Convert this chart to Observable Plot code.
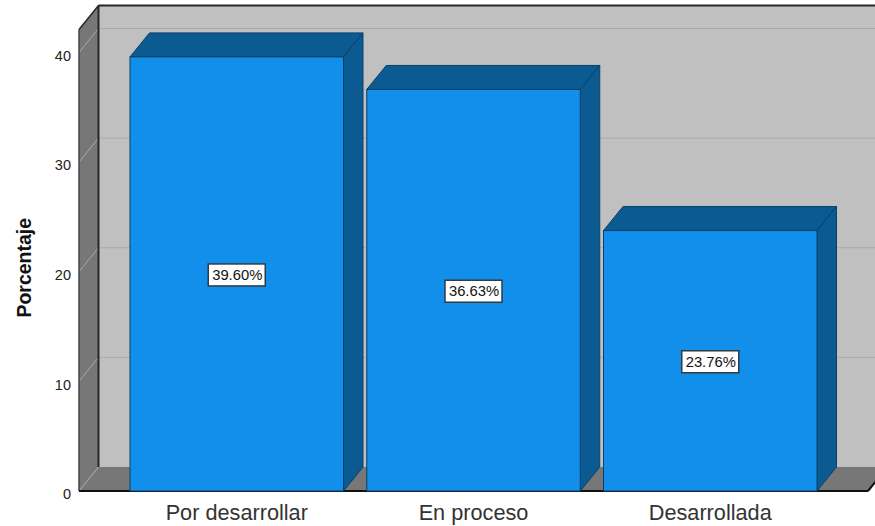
<!DOCTYPE html>
<html lang="es">
<head>
<meta charset="utf-8">
<title>Porcentaje por categoría</title>
<script src="https://cdn.jsdelivr.net/npm/d3@7"></script>
<script src="https://cdn.jsdelivr.net/npm/@observablehq/plot@0.6"></script>
<style>
  html, body { margin: 0; padding: 0; background: #fff; overflow: hidden; }
</style>
</head>
<body>
<script>
// Values of the chart
const categories = ["Por desarrollar", "En proceso", "Desarrollada"];
const percentages = [39.6, 36.63, 23.76];
const yTicks = [0, 10, 20, 30, 40];
const yMax = 42.1;

const rows = categories.map((category, i) => ({category, value: percentages[i]}));

// Pseudo-3D look: every face is offset from the front plane by this depth
const depth = {dx: 19.5, dy: -24};
const colors = {
  wall: "#c0c0c0", shade: "#777777", grid: "#aaaaaa", frame: "#262626",
  bar: "#118fea", barDark: "#0b5a91", barEdge: "#0a4068"
};

const polygon = (g, points, fill, stroke, strokeWidth = 1) =>
  g.append("path")
    .attr("d", "M" + points.map((p) => p.join(",")).join("L") + "Z")
    .attr("fill", fill)
    .attr("stroke", stroke)
    .attr("stroke-width", strokeWidth)
    .attr("stroke-linejoin", "round");

const segment = (g, a, b, stroke, strokeWidth = 1) =>
  g.append("line")
    .attr("x1", a[0]).attr("y1", a[1])
    .attr("x2", b[0]).attr("y2", b[1])
    .attr("stroke", stroke)
    .attr("stroke-width", strokeWidth);

// Back wall, left wall, floor, their gridlines and outlines
function room(index, scales, values, dimensions) {
  const {width, height, marginLeft, marginRight, marginBottom} = dimensions;
  const g = d3.create("svg:g");
  const y = scales.y;
  const {dx, dy} = depth;
  const left = marginLeft;
  const right = width - marginRight;
  const bottom = height - marginBottom;
  const top = y(yMax);

  polygon(g, [[left + dx, top + dy], [width + dx, top + dy], [width + dx, bottom + dy], [left + dx, bottom + dy]], colors.wall, "none");
  polygon(g, [[left, top], [left + dx, top + dy], [left + dx, bottom + dy], [left, bottom]], colors.shade, "none");
  polygon(g, [[left, bottom], [left + dx, bottom + dy], [right + dx, bottom + dy], [right, bottom]], colors.shade, "none");

  for (const t of yTicks.slice(1)) {
    segment(g, [left + dx, y(t) + dy], [width, y(t) + dy], colors.grid);
    segment(g, [left, y(t)], [left + dx, y(t) + dy], colors.grid);
  }
  segment(g, [left, bottom], [left + dx, bottom + dy], colors.grid);

  segment(g, [left + dx, top + dy], [left + dx, bottom + dy], colors.frame, 2);
  segment(g, [left + dx, top + dy], [width, top + dy], colors.frame, 2);
  segment(g, [left, top], [left + dx, top + dy], colors.frame, 1.5);
  segment(g, [left, top], [left, bottom], "#444444", 1.5);
  segment(g, [left, bottom], [right, bottom], "#111111", 2);
  segment(g, [right, bottom], [right + dx, bottom + dy], "#111111", 2);
  return g.node();
}

// Top and right faces of each bar
function barFaces(index, scales) {
  const g = d3.create("svg:g");
  const {dx, dy} = depth;
  const base = scales.y(0);
  for (const {category, value} of rows) {
    const x0 = scales.x(category);
    const x1 = x0 + scales.x.bandwidth();
    const top = scales.y(value);
    polygon(g, [[x0, top], [x0 + dx, top + dy], [x1 + dx, top + dy], [x1, top]], colors.barDark, colors.barEdge);
    polygon(g, [[x1, top], [x1 + dx, top + dy], [x1 + dx, base + dy], [x1, base]], colors.barDark, colors.barEdge);
  }
  return g.node();
}

// White boxes behind the percentage labels
function labelBoxes(index, scales) {
  const g = d3.create("svg:g");
  const boxW = 57, boxH = 22;
  for (const {category, value} of rows) {
    const cx = scales.x(category) + scales.x.bandwidth() / 2;
    const cy = scales.y(value / 2) + 1;
    g.append("rect")
      .attr("x", cx - boxW / 2).attr("y", cy - boxH / 2)
      .attr("width", boxW).attr("height", boxH)
      .attr("fill", "#ffffff").attr("stroke", "#2f3a42").attr("stroke-width", 1.5);
  }
  return g.node();
}

const chart = Plot.plot({
  width: 875,
  height: 526,
  marginLeft: 79,
  marginRight: 7,
  marginTop: 29.5,
  marginBottom: 35,
  style: {fontFamily: "'Liberation Sans', Arial, sans-serif", background: "transparent"},
  x: {type: "band", domain: categories, paddingInner: 0.0982, paddingOuter: 0.2154, round: false, label: null},
  y: {domain: [0, yMax], label: null},
  marks: [
    room,
    barFaces,
    Plot.barY(rows, {x: "category", y: "value", fill: colors.bar, stroke: colors.barEdge, strokeWidth: 1}),
    labelBoxes,
    Plot.text(rows, {
      x: "category",
      y: (d) => d.value / 2,
      dy: 1,
      text: (d) => d.value.toFixed(2) + "%",
      fontSize: 14.8,
      fill: "#111111"
    }),
    Plot.axisY({ticks: yTicks, tickSize: 0, tickPadding: 8.5, fontSize: 14.5, dy: 3, fill: "#222222", label: null}),
    Plot.axisX({tickSize: 0, tickPadding: 13, fontSize: 21.7, dx: -0.5, fill: "#333333", label: null}),
    Plot.text(["Porcentaje"], {
      frameAnchor: "left",
      textAnchor: "middle",
      rotate: -90,
      dx: -55,
      dy: 7,
      fontSize: 19.5,
      fontWeight: "bold",
      fill: "#111111"
    })
  ]
});

document.body.appendChild(chart);
</script>
</body>
</html>
